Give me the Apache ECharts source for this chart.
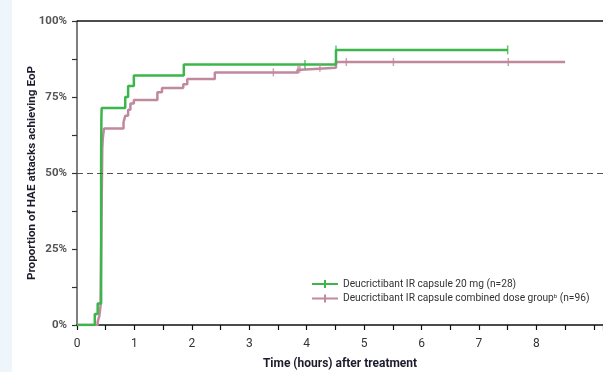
<!DOCTYPE html>
<html><head><meta charset="utf-8">
<script src="https://cdn.jsdelivr.net/npm/echarts@6/dist/echarts.min.js"></script>
<style>html,body{margin:0;padding:0;background:#fff}#c{width:603px;height:372px}</style>
</head><body><div id="c"></div>
<script>
var seriesNames = ['Deucrictibant IR capsule 20 mg (n=28)', 'Deucrictibant IR capsule combined dose group\u1D47 (n=96)'];
var xTickLabels = ['0','1','2','3','4','5','6','7','8'];
var yTickLabels = ['0%','25%','50%','75%','100%'];
// Kaplan-Meier step points [time (h), % achieving EoP]
var green = [[0,0],[0.31,3.6],[0.36,7.1],[0.42,53.6],[0.425,67.9],[0.43,71.4],[0.84,75.0],[0.89,78.6],[0.99,82.1],[1.86,85.7],[4.51,90.5],[7.5,90.5]];
var pink = [[0,0],[0.36,1.0],[0.39,3.1],[0.41,6.3],[0.44,58.0],[0.45,61.5],[0.47,64.6],[0.81,66.7],[0.84,68.8],[0.89,70.8],[0.93,72.9],[0.99,74.0],[1.40,76.6],[1.48,78.0],[1.85,79.2],[1.92,80.9],[2.40,83.1],[3.84,84.0],[3.90,84.6],[4.51,86.5],[8.5,86.5]];
var greenCensor = [[3.97,85.7],[4.51,90.5],[7.5,90.5]];
var pinkCensor = [[3.42,83.1],[3.85,84.0],[3.88,84.3],[4.23,84.6],[4.69,86.5],[5.51,86.5],[7.51,86.5]];
var GREEN = '#3cb54a', PINK = '#c1899e';
var iconPlus = 'path://M0,3h26v2h-26z M12,0h2v8h-2z';
var chart = echarts.init(document.getElementById('c'));
chart.setOption({
  animation:false,
  graphic:[{type:'rect',shape:{x:0,y:0,width:12,height:372},style:{fill:'#eef6fc'},z:-10}],
  grid:{left:77,right:0,top:21,bottom:47,containLabel:false,outerBoundsMode:'none'},
  legend:{orient:'vertical',left:307,top:274,itemWidth:26,itemHeight:8,itemGap:4,
    textStyle:{fontFamily:'Roboto',fontSize:10,color:'#333',
      rich:{a:{fontFamily:'Roboto',fontSize:10.2,color:'#333'},s:{fontFamily:'Roboto',fontSize:6,color:'#333',verticalAlign:'top',padding:[0,0,5,0]}}},
    formatter:function(n){
      var i=n.indexOf('\u1D47');
      if(i<0) return '{a|'+n+'}';
      return '{a|'+n.slice(0,i)+'}{s|b}{a|'+n.slice(i+1)+'}';
    },
    data:[{name:seriesNames[0],icon:iconPlus,itemStyle:{color:GREEN}},{name:seriesNames[1],icon:iconPlus,itemStyle:{color:PINK}}]},
  xAxis:{type:'value',min:0,max:9.16,interval:0.5,
    name:'Time (hours) after treatment',nameLocation:'middle',nameGap:33,nameMoveOverlap:false,
    nameTextStyle:{fontFamily:'Roboto',fontWeight:'bold',fontSize:12,color:'#1c1c2c'},
    axisLine:{lineStyle:{color:'#111',width:1.5}},
    axisTick:{length:5,lineStyle:{color:'#111',width:1.2}},
    axisLabel:{margin:13,fontFamily:'Roboto',fontSize:12,color:'#333',
      formatter:function(v){var i=Math.round(v);return (Math.abs(v-i)<1e-6 && i<xTickLabels.length)?xTickLabels[i]:'';}},
    splitLine:{show:false}},
  yAxis:{type:'value',min:0,max:100,interval:12.5,
    name:'Proportion of HAE attacks achieving EoP',nameLocation:'middle',nameGap:39,nameMoveOverlap:false,
    nameTextStyle:{fontFamily:'Roboto',fontWeight:'bold',fontSize:11.7,color:'#1c1c2c'},
    axisLine:{show:true,lineStyle:{color:'#555',width:1.5}},
    axisTick:{show:true,length:5,lineStyle:{color:'#333',width:1.2}},
    axisLabel:{margin:10,fontFamily:'Roboto',fontSize:11.5,fontWeight:'bold',color:'#555',
      formatter:function(v){return (v%25===0)?yTickLabels[v/25]:'';}},
    splitLine:{show:false}},
  series:[
    {name:seriesNames[1],type:'line',step:'end',data:pink,showSymbol:false,symbol:'none',
      lineStyle:{color:PINK,width:2.5},itemStyle:{color:PINK},z:2},
    {name:seriesNames[0],type:'line',step:'end',data:green,showSymbol:false,symbol:'none',
      lineStyle:{color:GREEN,width:2.5},itemStyle:{color:GREEN},z:3,
      markLine:{silent:true,symbol:'none',label:{show:false},
        data:[{yAxis:100,lineStyle:{color:'#111',width:1.5,type:'solid'}},
              {yAxis:50,lineStyle:{color:'#555',width:1,type:[6,4]}}]}},
    {type:'scatter',data:pinkCensor,symbol:'rect',symbolSize:[1.5,8],itemStyle:{color:PINK},z:4},
    {type:'scatter',data:greenCensor,symbol:'rect',symbolSize:[1.5,9],itemStyle:{color:GREEN},z:5}
  ]
});
</script></body></html>
